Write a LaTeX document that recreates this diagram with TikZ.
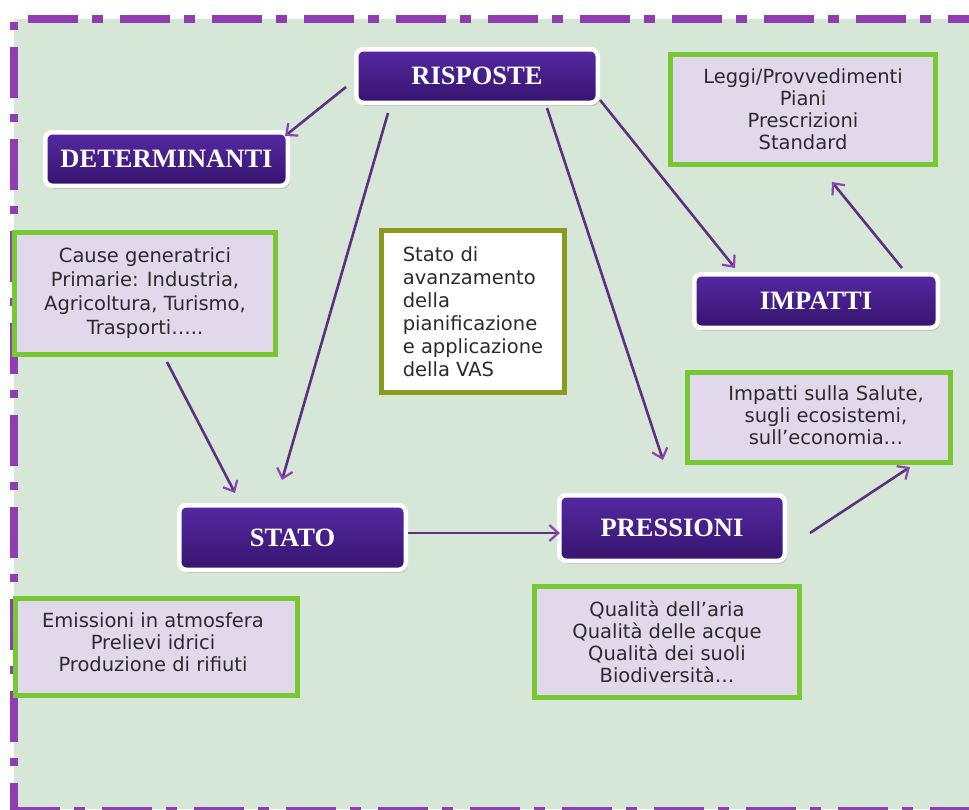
\documentclass[tikz,border=0pt]{standalone}
\usepackage{fontspec}
\setmainfont{DejaVu Sans}
\newfontfamily\headfont{Liberation Serif}
\usetikzlibrary{arrows.meta,calc,shadows}
\definecolor{bggreen}{HTML}{D6E7D8}
\definecolor{framepurple}{HTML}{8E3DB2}
\definecolor{headtop}{HTML}{5529A2}
\definecolor{headbot}{HTML}{36146E}
\definecolor{boxgreen}{HTML}{76C932}
\definecolor{boxfill}{HTML}{E1D8EC}
\definecolor{olivebrd}{HTML}{8A9A1E}
\definecolor{arrowcol}{HTML}{5E3180}
\definecolor{tipcol}{HTML}{8E42B4}
\definecolor{bodytext}{HTML}{2B2B2B}

\begin{document}
\begin{tikzpicture}[x=1pt,y=-1pt,
  headbox/.style={rounded corners=7pt, draw=white, line width=4.5pt,
    top color=headtop, bottom color=headbot, text=white,
    font=\headfont\bfseries\fontsize{26.5}{29}\selectfont,
    drop shadow={opacity=0.35, shadow xshift=2pt, shadow yshift=-3pt}},
  infobox/.style={draw=boxgreen, line width=5pt, fill=boxfill, text=bodytext,
    align=center, font=\fontsize{19.5}{22}\selectfont, inner sep=0pt},
  notebox/.style={draw=olivebrd, line width=5.5pt, fill=white, text=bodytext,
    align=left, font=\fontsize{19.5}{23}\selectfont, inner sep=0pt},
  bodylabel/.style={text=bodytext, align=center, font=\fontsize{19.5}{22}\selectfont, inner sep=0pt},
  link/.style={draw=arrowcol, line width=2.6pt,
    -{Straight Barb[length=9pt,width=16pt,line width=2.2pt,color=tipcol]}},
  framestroke/.style={draw=framepurple, line width=8pt}
]
\useasboundingbox (0,0) rectangle (969,809);

% background panel and dash-dot frame
\fill[bggreen] (14,19) rectangle (969,809);
\draw[framestroke, dash pattern=on 50pt off 14pt on 11pt off 17pt] (28,19) -- (969,19);
\draw[framestroke, dash pattern=on 8pt off 17pt on 51pt off 16pt] (14,22) -- (14,809);
\draw[framestroke, dash pattern=on 50pt off 14pt on 11pt off 17pt] (10,811) -- (969,811);

% DPSIR headings
\node[headbox, minimum width=241.5pt, minimum height=53.5pt] (risposte) at (477,76) {RISPOSTE};
\node[headbox, minimum width=242.5pt, minimum height=53.5pt] (determinanti) at (166.5,159) {DETERMINANTI};
\node[headbox, minimum width=243.5pt, minimum height=53.5pt] (impatti) at (816,301) {IMPATTI};
\node[headbox, minimum width=226.5pt, minimum height=64.5pt] (stato) at (292.5,537.5) {STATO};
\node[headbox, minimum width=225.5pt, minimum height=65.5pt] (pressioni) at (672,528) {PRESSIONI};

% description boxes
\node[infobox, minimum width=265pt, minimum height=110pt] (leggi) at (803,109.5)
  {Leggi/Provvedimenti\\Piani\\Prescrizioni\\Standard};
\node[infobox, minimum width=261pt, minimum height=122pt, font=\fontsize{19.5}{24}\selectfont] (cause) at (145,293.5)
  {Cause generatrici\\Primarie: Industria,\\Agricoltura, Turismo,\\Trasporti…..};
\node[infobox, minimum width=263pt, minimum height=90pt] (effetti) at (819,417.5) {};
\node[bodylabel] (effettitxt) at (826,415)
  {Impatti sulla Salute,\\sugli ecosistemi,\\sull’economia…};
\node[infobox, minimum width=265pt, minimum height=111pt] (qualita) at (667,642)
  {Qualità dell’aria\\Qualità delle acque\\Qualità dei suoli\\Biodiversità…};
\node[infobox, minimum width=282pt, minimum height=97pt] (emissioni) at (156.5,647) {};
\node[bodylabel] (emissionitxt) at (153,642)
  {Emissioni in atmosfera\\Prelievi idrici\\Produzione di rifiuti};
\node[notebox, minimum width=183pt, minimum height=162pt] (avanz) at (473,311.5)
  {Stato di\\avanzamento\\della\\pianificazione\\e applicazione\\della VAS};

% connectors
\draw[link] ($(risposte.west)+(-8,11)$) -- ($(determinanti.north east)+(-5,6)$);
\draw[link] ($(risposte.south)+(-89,8)$) -- ($(stato.north)+(-10.5,-23)$);
\draw[link] ($(risposte.south)+(70,3)$) -- ($(pressioni.north)+(-9,-33)$);
\draw[link] ($(risposte.south east)+(0,-5)$) -- ($(impatti.north)+(-81,-4)$);
\draw[link] ($(impatti.north)+(86,-4)$) -- ($(leggi.south)+(29,15)$);
\draw[link] ($(cause.south)+(22,5)$) -- ($(stato.north)+(-57.5,-10)$);
\draw[link] ($(stato.east)+(0,-4.5)$) -- ($(pressioni.west)+(3,5)$);
\draw[link] ($(pressioni.east)+(23,5)$) -- ($(effetti.south)+(91,2)$);
\end{tikzpicture}
\end{document}
